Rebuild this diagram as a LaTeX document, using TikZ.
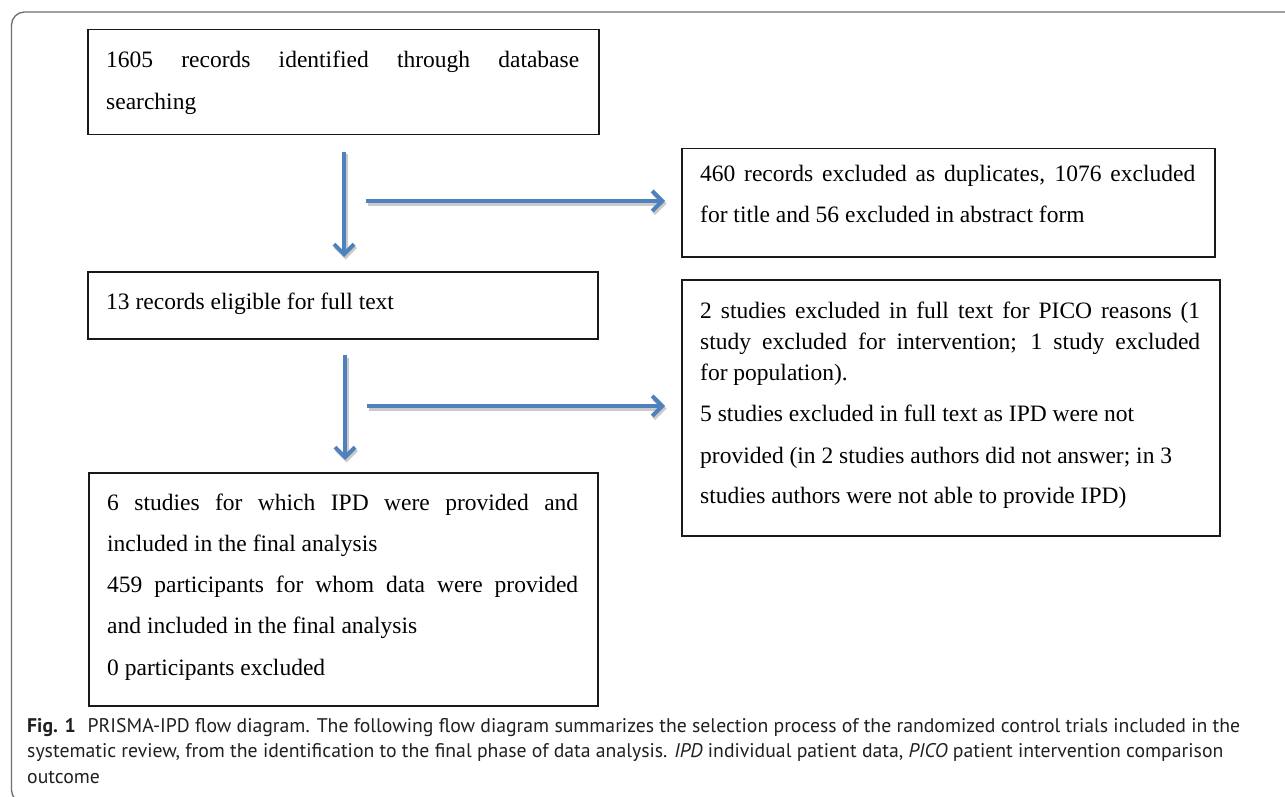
\documentclass[tikz,border=0pt]{standalone}
\usepackage{fontspec}
\setmainfont{Liberation Serif}
\newfontfamily\capfont{PT Sans}
\usetikzlibrary{arrows.meta}
\definecolor{arrowblue}{HTML}{4F81BD}
\definecolor{shadowgray}{HTML}{CACACA}
\definecolor{framegray}{HTML}{6D6E71}
\definecolor{captext}{HTML}{231F20}
\newcommand\jline[1]{\makebox[\linewidth][s]{#1}}
\newcommand\capfirst{\textbf{Fig. 1}\hspace{0.6em}PRISMA-IPD flow diagram. The following flow diagram summarizes the selection process of the randomized control trials included in the}
\newlength\capw
\begin{document}
\settowidth\capw{\capfont\fontsize{18}{18}\selectfont\capfirst}%
\pgfmathsetmacro\capsz{18*(1213/\capw)}%
\begin{tikzpicture}[x=1pt,y=-1pt,
  flowbox/.style={draw=black!90, line width=1.5pt, anchor=north west, inner sep=0pt},
  boxtext/.style={anchor=base west, inner sep=0pt},
  caption/.style={anchor=base west, inner sep=0pt, text=captext},
  flowarrow/.style={draw=arrowblue, line width=4pt, -{Straight Barb[length=10pt,width=20pt]}},
  flowshadow/.style={draw=shadowgray, line width=4pt, -{Straight Barb[length=10pt,width=20pt]}},
  ]
\useasboundingbox (0,0) rectangle (1285,797);
\fill[white] (0,0) rectangle (1285,797);
% outer frame
\draw[framegray, line width=1.3pt, rounded corners=13pt] (1300,12) -- (11.5,12) -- (11.5,803) -- (60,803);

% boxes
\node[flowbox, minimum width=511, minimum height=105] (b1) at (87,29) {};
\node[flowbox, minimum width=533, minimum height=108] (b2) at (681,148) {};
\node[flowbox, minimum width=510, minimum height=67] (b3) at (87,271) {};
\node[flowbox, minimum width=538, minimum height=256] (b4) at (681,279) {};
\node[flowbox, minimum width=509, minimum height=233] (b5) at (88,472) {};

% texts
\node[boxtext] (t1) at (106,68) {\parbox[t]{473pt}{\fontsize{23.5}{42}\selectfont
\jline{1605 records identified through database}\\
searching}};
\node[boxtext] (t2) at (700,181) {\parbox[t]{495pt}{\fontsize{23.5}{42}\selectfont
\jline{460 records excluded as duplicates, 1076 excluded}\\
for title and 56 excluded in abstract form}};
\node[boxtext] (t3) at (106,309) {\parbox[t]{472pt}{\fontsize{23.5}{42}\selectfont
13 records eligible for full text}};
\node[boxtext] (t4) at (700,318) {\parbox[t]{500pt}{\fontsize{23.5}{42}\selectfont
\jline{2 studies excluded in full text for PICO reasons (1}\\[-11pt]
\jline{study excluded for intervention; 1 study excluded}\\[-11pt]
for population).\\[-1pt]
5 studies excluded in full text as IPD were not\\
provided (in 2 studies authors did not answer; in 3\\[-2pt]
studies authors were not able to provide IPD)}};
\node[boxtext] (t5) at (107,510) {\parbox[t]{471pt}{\fontsize{23.5}{41.3}\selectfont
\jline{6 studies for which IPD were provided and}\\
included in the final analysis\\
\jline{459 participants for whom data were provided}\\
and included in the final analysis\\
0 participants excluded}};

% arrows
\coordinate (a1s) at (344,152); \coordinate (a1e) at (344,257);
\coordinate (h1s) at (366,201); \coordinate (h1e) at (665,201);
\coordinate (a2s) at (345,355); \coordinate (a2e) at (345,460);
\coordinate (h2s) at (367,406); \coordinate (h2e) at (665,406);
\foreach \s/\e in {a1s/a1e,h1s/h1e,a2s/a2e,h2s/h2e}{
  \draw[flowshadow] ([shift={(1.5,2.5)}]\s) -- ([shift={(1.5,2.5)}]\e);
}
\draw[flowarrow] (a1s) -- (a1e);
\draw[flowarrow] (h1s) -- (h1e);
\draw[flowarrow] (a2s) -- (a2e);
\draw[flowarrow] (h2s) -- (h2e);

% caption
\node[caption] (c1) at (27,732) {\capfont\fontsize{\capsz}{\capsz}\selectfont\capfirst};
\node[caption] (c2) at (27,757) {\capfont\fontsize{\capsz}{\capsz}\selectfont systematic review, from the identification to the final phase of data analysis. \textit{IPD} individual patient data, \textit{PICO} patient intervention comparison};
\node[caption] (c3) at (27,783) {\capfont\fontsize{\capsz}{\capsz}\selectfont outcome};
\end{tikzpicture}
\end{document}
